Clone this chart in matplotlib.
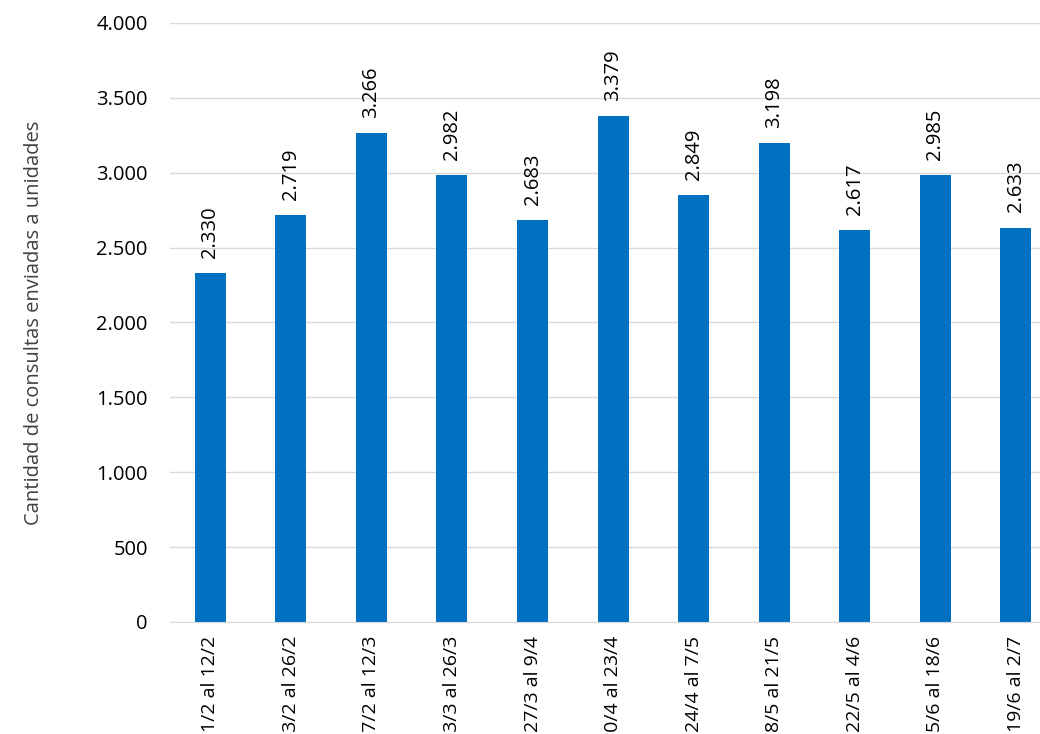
import matplotlib
matplotlib.use("Agg")
import matplotlib.pyplot as plt
from matplotlib.ticker import FuncFormatter

periodos = ["1/2 al 12/2", "13/2 al 26/2", "27/2 al 12/3", "13/3 al 26/3", "27/3 al 9/4",
            "10/4 al 23/4", "24/4 al 7/5", "8/5 al 21/5", "22/5 al 4/6", "5/6 al 18/6",
            "19/6 al 2/7"]
consultas = [2330, 2719, 3266, 2982, 2683, 3379, 2849, 3198, 2617, 2985, 2633]

plt.rcParams['font.family'] = ['Open Sans', 'DejaVu Sans']

def miles(v, pos=None):
    return f"{int(round(v)):,}".replace(",", ".")

fig = plt.figure(figsize=(10.4, 7.34), dpi=100)
fig.patch.set_facecolor('white')
ax = fig.add_axes([0.1635, 0.1526, 0.852, 0.8161])
ax.set_facecolor('none')

x = list(range(len(periodos)))
bars = ax.bar(x, consultas, width=0.385, color='#0070C0', zorder=3)
for xi, v in zip(x, consultas):
    ax.annotate(miles(v), (xi, v), xytext=(0, 11), textcoords='offset points',
                rotation=90, ha='center', va='bottom', fontsize=14.5, color='#000000')

ax.set_xlim(-0.5, len(periodos) - 0.5)
ax.set_ylim(0, 4000)
ax.set_yticks(range(0, 4001, 500))
ax.yaxis.set_major_formatter(FuncFormatter(miles))
ax.set_xticks(x)
ax.set_xticklabels(periodos, rotation=90, va='top', ha='center')
ax.tick_params(axis='both', length=0, labelsize=14.5, colors='#000000')
ax.tick_params(axis='x', pad=10, labelsize=14)
ax.tick_params(axis='y', pad=16)
ax.grid(axis='y', color='#D9D9D9', linewidth=1, zorder=0)
for s in ['top', 'right', 'left']:
    ax.spines[s].set_visible(False)
ax.spines['bottom'].set_color('#D9D9D9')
ax.spines['bottom'].set_zorder(4)
ax.set_ylabel('Cantidad de consultas enviadas a unidades', fontsize=14.5, color='#404040')
ax.yaxis.set_label_coords(-0.142, 0.5)

fig.savefig('out.png', dpi=100)
